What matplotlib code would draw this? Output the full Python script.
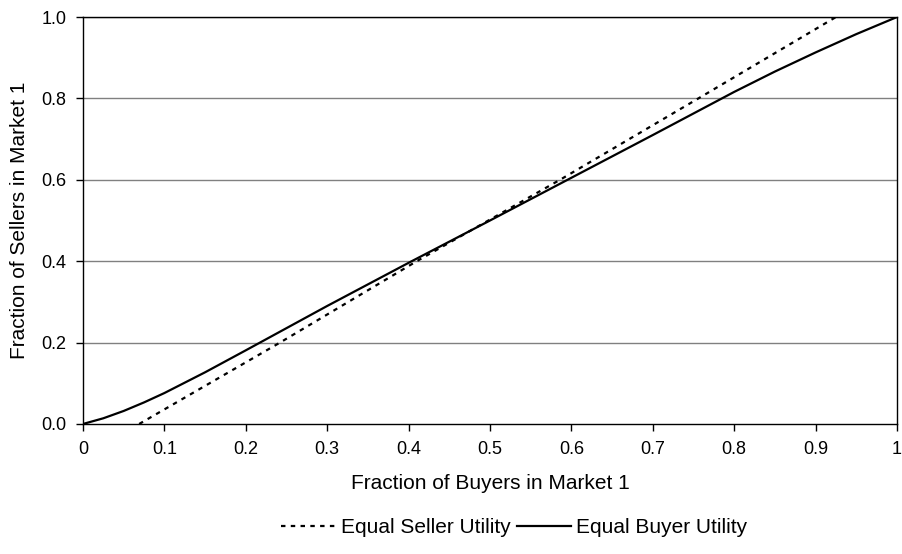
import matplotlib
matplotlib.use("Agg")
import matplotlib.pyplot as plt

plt.rcParams["font.family"] = ["Liberation Sans", "DejaVu Sans"]

# Equal Buyer Utility (solid curve)
buyer_x = [0.0, 0.025, 0.05, 0.075, 0.1, 0.15, 0.2, 0.3, 0.4, 0.5, 0.6, 0.7, 0.8, 0.85, 0.9, 0.95, 1.0]
buyer_y = [0.0, 0.014, 0.032, 0.053, 0.076, 0.127, 0.181, 0.29, 0.396, 0.5, 0.605, 0.71, 0.816, 0.866, 0.913, 0.958, 1.0]

# Equal Seller Utility (dotted line)
seller_x = [0.069, 0.242, 0.41, 0.586, 0.756, 0.925]
seller_y = [0.0, 0.2, 0.4, 0.6, 0.8, 1.0]

x_ticks = [0, 0.1, 0.2, 0.3, 0.4, 0.5, 0.6, 0.7, 0.8, 0.9, 1]
x_tick_labels = ["0", "0.1", "0.2", "0.3", "0.4", "0.5", "0.6", "0.7", "0.8", "0.9", "1"]
y_ticks = [0.0, 0.2, 0.4, 0.6, 0.8, 1.0]
y_tick_labels = ["0.0", "0.2", "0.4", "0.6", "0.8", "1.0"]

fig = plt.figure(figsize=(9.02, 5.54), dpi=100)
ax = fig.add_axes([0.092, 0.2347, 0.9025, 0.7346])

for y in y_ticks[1:]:
    ax.axhline(y, color="#808080", linewidth=1.0, zorder=1)

ax.plot(seller_x, seller_y, color="black", linewidth=1.6,
        linestyle=(0, (2.0, 2.4)), label="Equal Seller Utility", zorder=3)
ax.plot(buyer_x, buyer_y, color="black", linewidth=1.6,
        linestyle="-", label="Equal Buyer Utility", zorder=3)

ax.set_xlim(0, 1)
ax.set_ylim(0, 1)
ax.set_xticks(x_ticks)
ax.set_xticklabels(x_tick_labels)
ax.set_yticks(y_ticks)
ax.set_yticklabels(y_tick_labels)
ax.tick_params(axis="both", direction="out", length=5, width=1,
               labelsize=13, color="black", pad=7)

for spine in ax.spines.values():
    spine.set_color("black")
    spine.set_linewidth(1.0)

ax.set_xlabel("Fraction of Buyers in Market 1", fontsize=15, labelpad=12)
ax.set_ylabel("Fraction of Sellers in Market 1", fontsize=15, labelpad=9)

fig.legend(loc="center", bbox_to_anchor=(0.57, 0.048), ncol=2,
           frameon=False, fontsize=15, handlelength=2.6, columnspacing=0.3,
           handletextpad=0.25)

fig.savefig("out.png", dpi=100)
